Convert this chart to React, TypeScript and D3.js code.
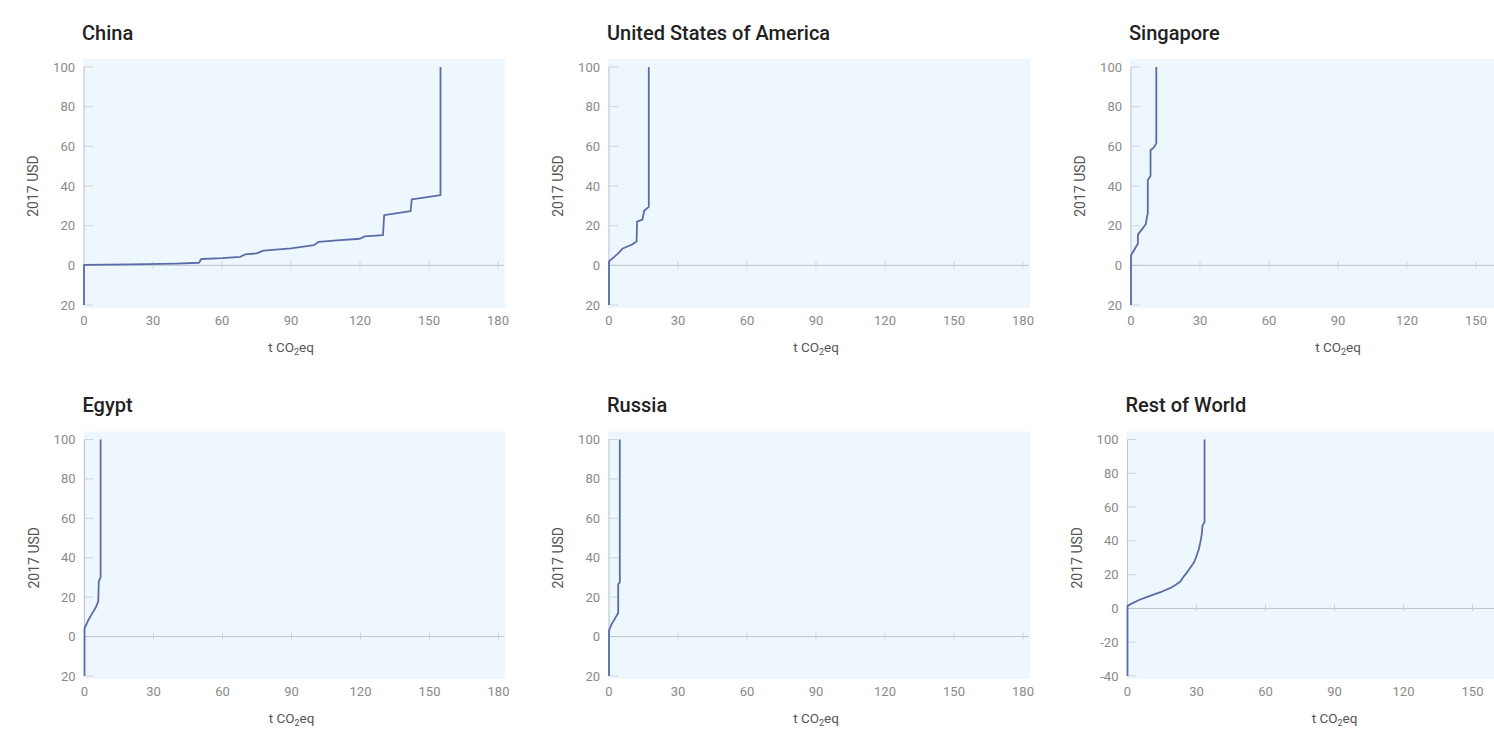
import React from "react";
import * as d3 from "d3";

// ---------- data ----------
const countries = ["China", "United States of America", "Singapore", "Egypt", "Russia", "Rest of World"];

const xTickValues = [0, 30, 60, 90, 120, 150, 180];
const yTicksStd = [-20, 0, 20, 40, 60, 80, 100];
const yTickLabelsStd = ["20", "0", "20", "40", "60", "80", "100"];
const yTicksRow = [-40, -20, 0, 20, 40, 60, 80, 100];
const yTickLabelsRow = ["-40", "-20", "0", "20", "40", "60", "80", "100"];

// cumulative abatement (t CO2eq) and marginal cost (2017 USD)
const chinaAbatement = [0, 0, 20, 40, 50, 51, 60, 68, 70, 75, 78, 90, 100, 102, 110, 120, 122, 130, 130.5, 137, 142, 142.5, 150, 155, 155];
const chinaCost = [-20, 0.2, 0.5, 0.9, 1.3, 3.2, 3.6, 4.3, 5.5, 6.0, 7.4, 8.6, 10.2, 11.8, 12.6, 13.4, 14.6, 15.2, 25.3, 26.4, 27.3, 33.3, 34.5, 35.4, 100];

const usaAbatement = [0, 0, 2, 4, 6, 10, 12, 12.2, 14.5, 15.3, 17.3, 17.3];
const usaCost = [-20, 2, 4, 6, 8.5, 10.5, 12, 22, 23, 27.5, 29.5, 100];

const singaporeAbatement = [0, 0, 1.5, 3, 3, 5, 6.5, 7, 7.3, 7.3, 8.5, 8.5, 10, 11, 11];
const singaporeCost = [-20, 5, 8, 11, 15.5, 18.5, 21, 25, 26, 43, 45, 58, 59.5, 61.5, 100];

const egyptAbatement = [0, 0, 1.5, 3, 5, 6, 6.2, 7, 7];
const egyptCost = [-20, 4, 8, 11, 15, 18, 28, 30, 100];

const russiaAbatement = [0, 0, 1, 2.5, 4, 4, 4.7, 4.7];
const russiaCost = [-20, 3, 6, 9, 12, 26.5, 27.5, 100];

const rowAbatement = [0, 0, 2, 5, 8, 11, 15, 18.5, 21, 23, 24.5, 26, 27.5, 29, 30, 31, 31.8, 32.3, 32.6, 33.5, 33.5];
const rowCost = [-40, 1.5, 3, 5, 6.5, 8, 10, 12, 14, 16, 19, 21.5, 24.5, 27.5, 31, 35, 40, 44, 49, 51, 100];

const seriesX = [chinaAbatement, usaAbatement, singaporeAbatement, egyptAbatement, russiaAbatement, rowAbatement];
const seriesY = [chinaCost, usaCost, singaporeCost, egyptCost, russiaCost, rowCost];

// ---------- layout ----------
const W = 1494;
const H = 731;
const PLOT_W = 414;
const colLefts = [
  [84, 609, 1131],
  [84.5, 609, 1127.5],
];
const rowTops = [67, 439.5];
const rowBottoms = [305, 676];

const FONT = "Roboto, 'Noto Sans', sans-serif";
const LINE_COLOR = "#5b6ca8";
const BG = "#eef7fd";
const AXIS = "#bcc5ce";
const TICK = "#cdd3d9";
const LABEL = "#8a8a8a";

type PanelProps = {
  title: string;
  xs: number[];
  ys: number[];
  yTicks: number[];
  yLabels: string[];
  left: number;
  top: number;
  bottom: number;
};

function Panel({ title, xs, ys, yTicks, yLabels, left, top, bottom }: PanelProps) {
  const x = d3.scaleLinear().domain([0, 180]).range([left, left + PLOT_W]);
  const y = d3.scaleLinear().domain([yTicks[0], 100]).range([bottom, top]);
  const pts: [number, number][] = xs.map((v, i) => [v, ys[i]]);
  const line = d3
    .line<[number, number]>()
    .x((d) => x(d[0]))
    .y((d) => y(d[1]));
  const y0 = y(0);
  const midX = (x(0) + x(180)) / 2;
  const midY = (top + bottom) / 2;
  return (
    <g>
      <rect x={left - 1} y={top - 8} width={PLOT_W + 8} height={bottom - top + 11} fill={BG} />
      <text x={left - 2} y={top - 27.5} fontFamily={FONT} fontSize={20} fontWeight={500} fill="#222">
        {title}
      </text>
      {/* y axis */}
      <line x1={left} x2={left} y1={top} y2={bottom} stroke={AXIS} strokeWidth={1} />
      {yTicks.map((v, i) => (
        <g key={"yt" + v}>
          <line x1={left} x2={left + 9} y1={y(v)} y2={y(v)} stroke={TICK} strokeWidth={1} />
          <text x={left - 9} y={y(v) + 4.5} textAnchor="end" fontFamily={FONT} fontSize={13} fill={LABEL}>
            {yLabels[i]}
          </text>
        </g>
      ))}
      {/* zero line with ticks */}
      <line x1={x(0)} x2={x(180) + 6} y1={y0} y2={y0} stroke={AXIS} strokeWidth={1} />
      {xTickValues.map((v) => (
        <g key={"xt" + v}>
          <line x1={x(v)} x2={x(v)} y1={y0 - 4} y2={y0 + 3} stroke={TICK} strokeWidth={1} />
          {x(v) + 12 < W && (
            <text x={x(v)} y={bottom + 19.5} textAnchor="middle" fontFamily={FONT} fontSize={13} fill={LABEL}>
              {v}
            </text>
          )}
        </g>
      ))}
      <text x={midX} y={bottom + 47} textAnchor="middle" fontFamily={FONT} fontSize={13.5} fill="#555">
        t CO
        <tspan fontSize={9} dy={3}>2</tspan>
        <tspan dy={-3}>eq</tspan>
      </text>
      <text
        transform={`translate(${left - 46},${midY}) rotate(-90)`}
        textAnchor="middle"
        fontFamily={FONT}
        fontSize={14}
        fill="#555"
      >
        2017 USD
      </text>
      <path d={line(pts) || ""} fill="none" stroke={LINE_COLOR} strokeWidth={1.8} strokeLinejoin="round" />
    </g>
  );
}

export default function App() {
  return (
    <div style={{ position: "absolute", left: 0, top: 0, width: W, height: H, overflow: "hidden", background: "#fff" }}>
      <svg width={W} height={H} style={{ display: "block" }}>
        <rect width={W} height={H} fill="#fff" />
        {countries.map((c, i) => {
          const r = Math.floor(i / 3);
          const col = i % 3;
          const isRow = c === "Rest of World";
          return (
            <Panel
              key={c}
              title={c}
              xs={seriesX[i]}
              ys={seriesY[i]}
              yTicks={isRow ? yTicksRow : yTicksStd}
              yLabels={isRow ? yTickLabelsRow : yTickLabelsStd}
              left={colLefts[r][col]}
              top={rowTops[r]}
              bottom={rowBottoms[r]}
            />
          );
        })}
      </svg>
    </div>
  );
}
